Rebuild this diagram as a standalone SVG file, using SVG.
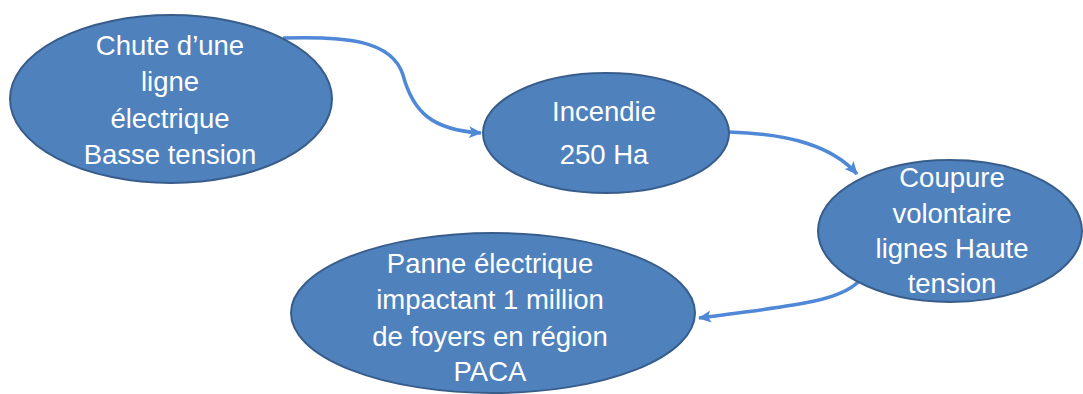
<svg xmlns="http://www.w3.org/2000/svg" width="1083" height="394" viewBox="0 0 1083 394">
<style>
.node{fill:#4F81BD;stroke:#385D8A;stroke-width:2}
.lbl{fill:#FFFFFF;font-family:"Liberation Sans",Arial,sans-serif;font-size:27.5px;text-anchor:middle}
.conn{fill:none;stroke:#4F88D6;stroke-width:3.5}
</style>
<defs>
<marker id="arr" markerUnits="userSpaceOnUse" markerWidth="14" markerHeight="14" refX="12" refY="7" orient="auto">
<path d="M0,1 L13,7 L0,13 L3,7 Z" fill="#4F88D6"/>
</marker>
</defs>
<rect width="1083" height="394" fill="#FFFFFF"/>
<g id="connectors">
<path class="conn" d="M283,38 C345,36 392,40 403,75 C413,112 432,130 481,133" marker-end="url(#arr)"/>
<path class="conn" d="M729,132 C790,134 832,146 857,174" marker-end="url(#arr)"/>
<path class="conn" d="M858,282 C838,302 790,306 699,318" marker-end="url(#arr)"/>
</g>
<g id="node1">
<ellipse class="node" cx="171" cy="99" rx="161" ry="84"/>
<text class="lbl" x="170" y="55">Chute d’une</text>
<text class="lbl" x="170" y="91">ligne</text>
<text class="lbl" x="170" y="128">électrique</text>
<text class="lbl" x="170" y="164">Basse tension</text>
</g>
<g id="node2">
<ellipse class="node" cx="606" cy="133" rx="123" ry="60"/>
<text class="lbl" x="604" y="121">Incendie</text>
<text class="lbl" x="604" y="164">250 Ha</text>
</g>
<g id="node3">
<ellipse class="node" cx="950" cy="231" rx="132" ry="71"/>
<text class="lbl" x="952" y="187">Coupure</text>
<text class="lbl" x="952" y="223">volontaire</text>
<text class="lbl" x="952" y="258">lignes Haute</text>
<text class="lbl" x="952" y="293">tension</text>
</g>
<g id="node4">
<ellipse class="node" cx="493" cy="313" rx="202" ry="80"/>
<text class="lbl" x="490" y="273">Panne électrique</text>
<text class="lbl" x="490" y="309">impactant 1 million</text>
<text class="lbl" x="490" y="346">de foyers en région</text>
<text class="lbl" x="490" y="381">PACA</text>
</g>
</svg>
